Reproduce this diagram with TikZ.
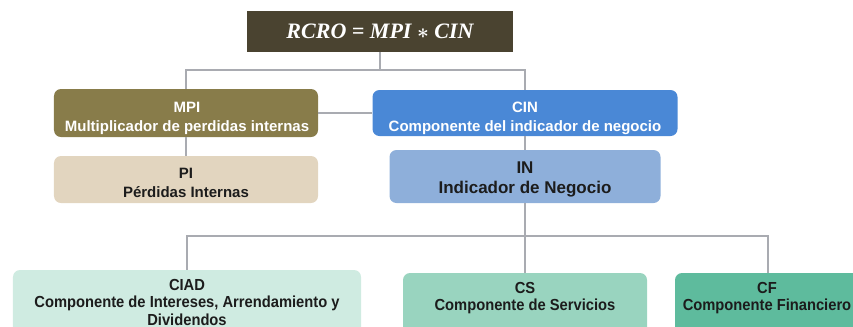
\documentclass[tikz,border=0pt]{standalone}
\usepackage{fontspec}
\setmainfont{Liberation Sans}
\newfontfamily\narrowfont{Liberation Sans}[FakeStretch=0.92]
\newfontfamily\eqfont{Liberation Serif}
\definecolor{topc}{HTML}{4A4330}
\definecolor{mpic}{HTML}{887C4A}
\definecolor{cinc}{HTML}{4A88D6}
\definecolor{pic}{HTML}{E2D5BF}
\definecolor{inc}{HTML}{8EAFDA}
\definecolor{ciadc}{HTML}{CFEBE1}
\definecolor{csc}{HTML}{99D4BF}
\definecolor{cfc}{HTML}{5EBB9D}
\definecolor{linec}{HTML}{A9ABB1}
\definecolor{txtc}{HTML}{1C1C1C}
\tikzset{
  box/.style={rectangle, rounded corners=7bp, inner sep=0pt},
  boxtext/.style={inner sep=0pt, align=center, font=\bfseries\fontsize{15bp}{19bp}\selectfont},
  lowtext/.style={inner sep=0pt, align=center, text=txtc, font=\narrowfont\bfseries\fontsize{16bp}{17.5bp}\selectfont},
  conn/.style={draw=linec, line width=1.5bp}
}
\begin{document}
\begin{tikzpicture}[x=1bp,y=-1bp]
\useasboundingbox (0,0) rectangle (853,326);
\clip (0,0) rectangle (853,326);
% boxes
\node[rectangle, fill=topc, minimum width=266bp, minimum height=41bp, inner sep=0pt, text=white,
      font=\eqfont\bfseries\itshape\fontsize{22bp}{24bp}\selectfont] (top) at (380,31.5) {RCRO = MPI {\boldmath$\ast$} CIN};
\node[box, fill=mpic, minimum width=264bp, minimum height=48bp] (MPI) at (186,113) {};
\node[box, fill=cinc, minimum width=305bp, minimum height=46bp] (CIN) at (525,113) {};
\node[box, fill=pic, minimum width=264bp, minimum height=47bp] (PI) at (186,179.5) {};
\node[box, fill=inc, minimum width=271bp, minimum height=53bp] (IN) at (525,176.5) {};
\node[box, fill=ciadc, minimum width=348bp, minimum height=80bp] (CIAD) at (187,310) {};
\node[box, fill=csc, minimum width=244bp, minimum height=74bp] (CS) at (525,310) {};
\node[box, fill=cfc, minimum width=186bp, minimum height=74bp] (CF) at (768,310) {};
% texts
\node[boxtext, text=white] (tMPI) at (187,118) {MPI\\Multiplicador de perdidas internas};
\node[boxtext, text=white] (tCIN) at (525,118) {CIN\\Componente del indicador de negocio};
\node[boxtext, text=txtc] (tPI) at (186,183) {PI\\Pérdidas Internas};
\node[boxtext, text=txtc, font=\bfseries\fontsize{17bp}{20bp}\selectfont] (tIN) at (525,179.5) {IN\\Indicador de Negocio};
\node[lowtext] (tCIAD) at (187,302) {CIAD\\Componente de Intereses, Arrendamiento y\\Dividendos};
\node[lowtext] (tCS) at (525,298) {CS\\Componente de Servicios};
\node[lowtext] (tCF) at (767,298) {CF\\Componente Financiero};
% connectors
\coordinate (j1) at (380,70);
\coordinate (j2) at (525,236);
\draw[conn] (top.south) -- (j1);
\draw[conn] (MPI.north) |- (j1) -| (CIN.north);
\draw[conn] (MPI.east) -- (CIN.west);
\draw[conn] (MPI.south) -- (PI.north);
\draw[conn] (CIN.south) -- (IN.north);
\draw[conn] (IN.south) -- (j2);
\draw[conn] (CIAD.north) |- (j2) -| (CF.north);
\draw[conn] (j2) -- (CS.north);
\end{tikzpicture}
\end{document}
